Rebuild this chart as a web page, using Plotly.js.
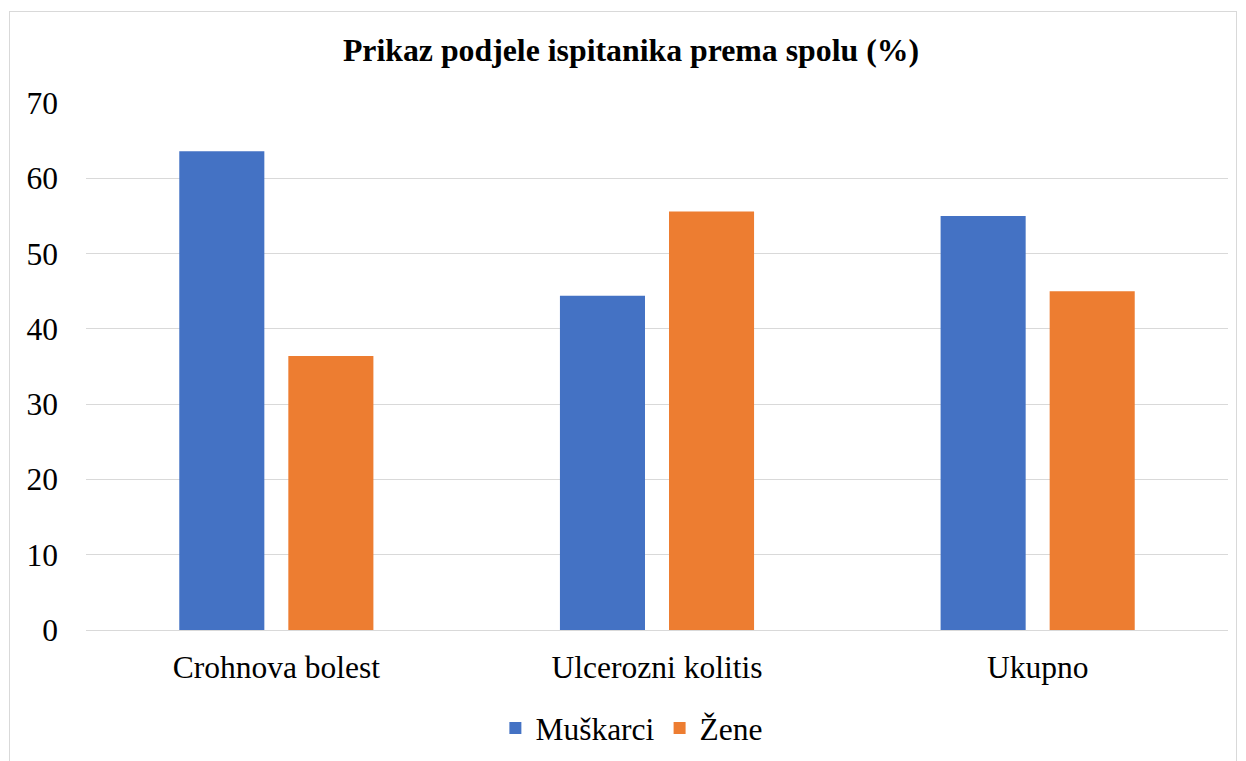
<!DOCTYPE html>
<html>
<head>
<meta charset="utf-8">
<script src="https://cdn.plot.ly/plotly-3.0.1.min.js"></script>
<style>
  html, body { margin: 0; padding: 0; background: #fff; }
  #wrap { position: relative; width: 1246px; height: 761px; }
  #chart { position: absolute; left: 0; top: 0; width: 1246px; height: 761px; }
  #frame { position: absolute; left: 9px; top: 11px; width: 1228px; height: 760px; border: 1px solid #d9d9d9; box-sizing: border-box; pointer-events: none; }
</style>
</head>
<body>
<div id="wrap">
  <div id="chart"></div>
  <div id="frame"></div>
</div>
<script>
const categories = ["Crohnova bolest", "Ulcerozni kolitis", "Ukupno"];
const muskarci = [63.6, 44.4, 55.0];
const zene = [36.4, 55.6, 45.0];
const seriesNames = ["Muškarci", "Žene"];
const chartTitle = "Prikaz podjele ispitanika prema spolu (%)";

const font = "Liberation Serif, Times New Roman, serif";

const traces = [
  { type: "bar", name: seriesNames[0], x: categories, y: muskarci, marker: { color: "#4472C4" }, hoverinfo: "y" },
  { type: "bar", name: seriesNames[1], x: categories, y: zene, marker: { color: "#ED7D31" }, hoverinfo: "y" }
];

const layout = {
  width: 1246, height: 761,
  margin: { l: 86, r: 18, t: 102.5, b: 131.3, autoexpand: false },
  paper_bgcolor: "#fff", plot_bgcolor: "#fff",
  font: { family: font, size: 32, color: "#000" },
  title: { text: "<b>" + chartTitle + "</b>", font: { family: font, size: 31.8, color: "#000" }, x: 631/1246, xanchor: "center", xref: "container", y: 1 - 50/761, yanchor: "middle" },
  barmode: "group",
  bargap: 0.427,
  bargroupgap: 0.22,
  xaxis: { type: "category", automargin: false, showgrid: false, showline: true, linecolor: "#d9d9d9", linewidth: 1, ticks: "", ticklabelstandoff: 9, tickfont: { family: font, size: 31.5, color: "#000" }, zeroline: false },
  yaxis: { range: [0, 70], automargin: false, dtick: 10, tick0: 0, showgrid: true, gridcolor: "#d9d9d9", gridwidth: 1, zeroline: false, showline: false, ticks: "", ticklabelstandoff: 27, tickfont: { family: font, size: 31.5, color: "#000" } },
  showlegend: true,
  legend: { orientation: "h", x: 0.478, xanchor: "center", y: -0.186, yanchor: "middle", font: { family: font, size: 31.5, color: "#000" }, itemwidth: 30, traceorder: "normal" }
};

Plotly.newPlot("chart", traces, layout, { displayModeBar: false, staticPlot: true });
</script>
</body>
</html>
